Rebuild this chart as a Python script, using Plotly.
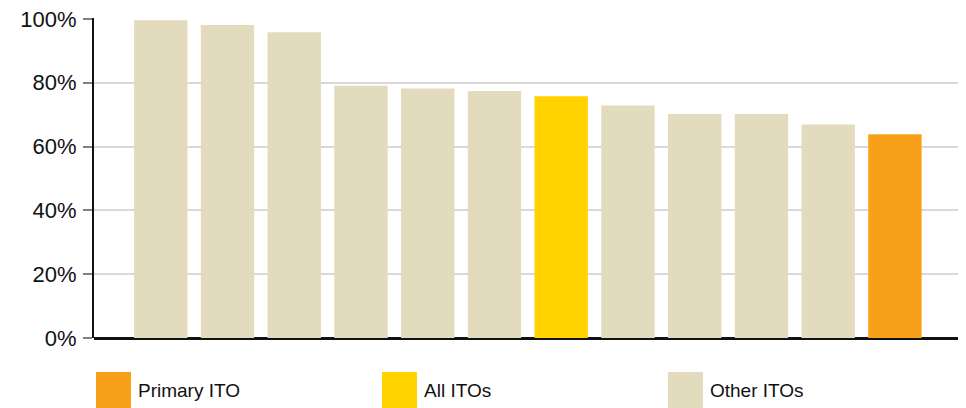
import plotly.graph_objects as go

# Data
categories = ["ITO A", "ITO B", "ITO C", "ITO D", "ITO E", "ITO F",
              "All ITOs", "ITO G", "ITO H", "ITO I", "ITO J", "Primary ITO"]
values = [99.6, 98.1, 95.8, 79.1, 78.2, 77.4, 75.8, 72.9, 70.2, 70.2, 66.9, 63.9]
groups = ["Other ITOs"] * 6 + ["All ITOs"] + ["Other ITOs"] * 4 + ["Primary ITO"]
tick_vals = [0, 20, 40, 60, 80, 100]
tick_text = ["0%", "20%", "40%", "60%", "80%", "100%"]
legend_order = ["Primary ITO", "All ITOs", "Other ITOs"]

colors = {"Primary ITO": "#F9A01B", "All ITOs": "#FFD200", "Other ITOs": "#E3DBBD"}

# page body has an 8px default margin; compensate
OFF = 8
W, H = 958, 400
ml, mr, mt, mb = 86, 3, 10, 70
PW, PH = W - ml - mr, H - mt - mb

fig = go.Figure()
fig.add_trace(go.Bar(
    x=categories, y=values,
    marker=dict(color=[colors[g] for g in groups], line=dict(width=0)),
    width=0.8, showlegend=False, hoverinfo="x+y",
))

fig.update_layout(
    width=W, height=H,
    margin=dict(l=ml, r=mr, t=mt, b=mb, autoexpand=False),
    paper_bgcolor="white", plot_bgcolor="white",
    font=dict(family="Liberation Sans, Arial, sans-serif", color="#111111"),
    bargap=0.2,
)
fig.update_xaxes(
    type="category", range=[-1.0, 12.02], showticklabels=False, ticks="",
    showgrid=False, showline=False, zeroline=False, fixedrange=True,
    automargin=False,
)
fig.update_yaxes(
    range=[0, 100.3], tickvals=tick_vals, ticktext=tick_text,
    tickfont=dict(size=22, color="#111111"),
    ticks="outside", ticklen=9, tickcolor="#808080", tickwidth=1.5,
    ticklabelstandoff=2, ticklabeloverflow="allow",
    showgrid=True, gridcolor="#D9D9D9", gridwidth=2,
    showline=True, linecolor="#111111", linewidth=2,
    zeroline=True, zerolinecolor="#111111", zerolinewidth=2.5,
    fixedrange=True, automargin=False,
)

# Custom legend at the bottom (large square swatches); positions in page pixels
legend_x = [96, 382, 668]
sq_top, sq_bot, txt_mid = 372, 408, 390


def px_x(p):
    return (p - OFF - ml) / PW


def px_y(p):
    return (H - mb - (p - OFF)) / PH


for name, x0 in zip(legend_order, legend_x):
    fig.add_shape(type="rect", xref="paper", yref="paper",
                  x0=px_x(x0), x1=px_x(x0 + 35),
                  y0=px_y(sq_top), y1=px_y(sq_bot),
                  fillcolor=colors[name], line=dict(width=0), layer="above")
    fig.add_annotation(xref="paper", yref="paper",
                       x=px_x(x0 + 40), y=px_y(txt_mid),
                       text=name, showarrow=False, xanchor="left", yanchor="middle",
                       font=dict(size=19, color="#111111"))

fig.write_html("out.html")
